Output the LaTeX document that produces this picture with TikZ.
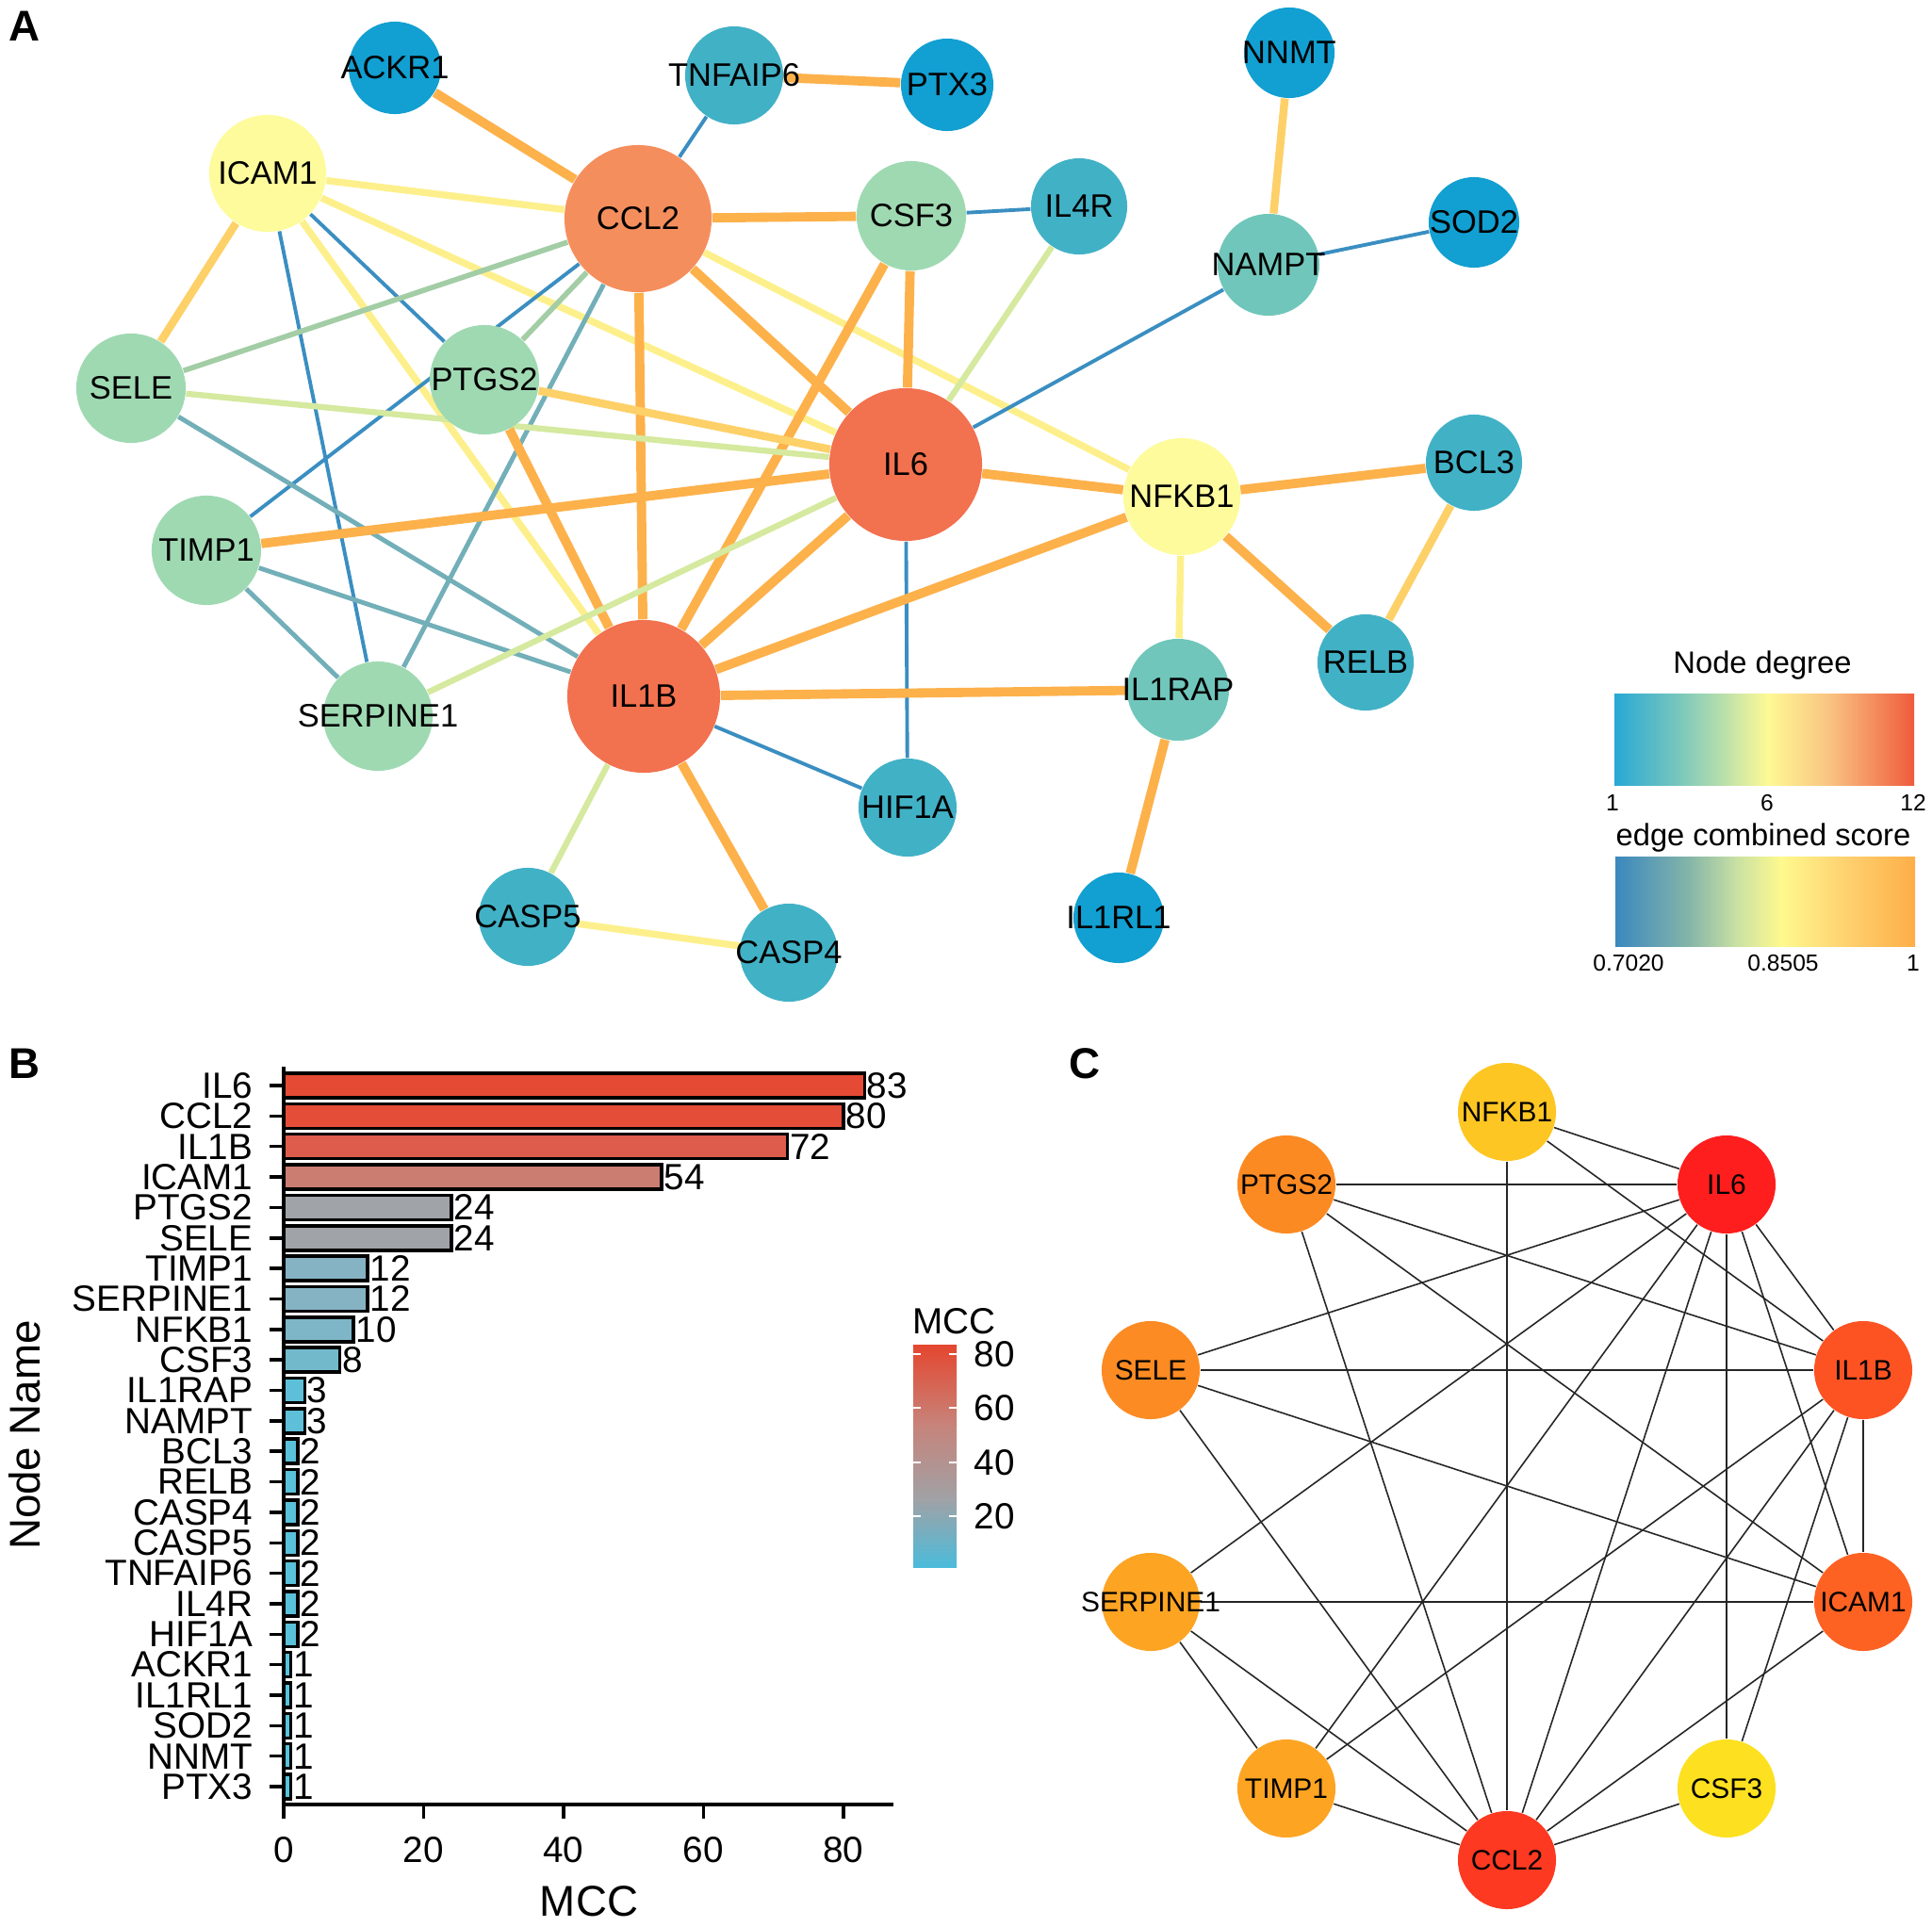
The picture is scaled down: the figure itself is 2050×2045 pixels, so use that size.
\documentclass[tikz,border=0pt]{standalone}
\usepackage{fontspec}
\setmainfont{Liberation Sans}
\usetikzlibrary{backgrounds}

% node colours, panel A (by degree)
\definecolor{dg1}{HTML}{129FD1}
\definecolor{dg2}{HTML}{41B1C6}
\definecolor{dg3}{HTML}{70C6BB}
\definecolor{dg4}{HTML}{9FD9B2}
\definecolor{dg6}{HTML}{FDFB9C}
\definecolor{dg11}{HTML}{F58E5D}
\definecolor{dg12}{HTML}{F2714F}
% edge colours, panel A
\definecolor{cOrng}{HTML}{FDB14B}
\definecolor{cLtor}{HTML}{FDD068}
\definecolor{cYell}{HTML}{FDF08C}
\definecolor{cLime}{HTML}{D5E99F}
\definecolor{cGreen}{HTML}{A3CDA5}
\definecolor{cTeal}{HTML}{72AFB8}
\definecolor{cBlue}{HTML}{3A8EC1}
% legend stops
\definecolor{nd0}{HTML}{28A8D4}
\definecolor{nd1}{HTML}{7CC8BC}
\definecolor{nd2}{HTML}{C2E3A8}
\definecolor{nd3}{HTML}{FEF995}
\definecolor{nd4}{HTML}{F9C281}
\definecolor{nd5}{HTML}{EF5B3C}
\definecolor{es0}{HTML}{3B88BF}
\definecolor{es1}{HTML}{86B6A8}
\definecolor{es2}{HTML}{C8E0A4}
\definecolor{es3}{HTML}{FEF98E}
\definecolor{es4}{HTML}{FED472}
\definecolor{es5}{HTML}{FEAE48}
% bar colours, panel B
\definecolor{b83}{HTML}{E44A34}
\definecolor{b80}{HTML}{E44D38}
\definecolor{b72}{HTML}{DD5C4B}
\definecolor{b54}{HTML}{CB7D72}
\definecolor{b24}{HTML}{A0A3A8}
\definecolor{b12}{HTML}{85B3C3}
\definecolor{b10}{HTML}{7EB6C7}
\definecolor{b8}{HTML}{73B9CC}
\definecolor{b3}{HTML}{5DC0D8}
\definecolor{b2}{HTML}{5AC1DA}
\definecolor{b1}{HTML}{57C3DC}
\definecolor{mccA}{HTML}{E4472F}
\definecolor{mccB}{HTML}{C7837A}
\definecolor{mccC}{HTML}{A0A2A6}
\definecolor{mccD}{HTML}{4BBBDA}
% node colours, panel C
\definecolor{cNF}{HTML}{FDC623}
\definecolor{cIL6}{HTML}{FE1E1E}
\definecolor{cPT}{HTML}{FB8A22}
\definecolor{cSE}{HTML}{FC8B23}
\definecolor{cSP}{HTML}{FDA423}
\definecolor{cCC}{HTML}{FD3921}
\definecolor{cCS}{HTML}{FDE020}
\definecolor{cIB}{HTML}{FD5323}
\definecolor{cIC}{HTML}{FD6223}

\tikzset{
  gene/.style={circle, inner sep=0pt, draw=none},
  albl/.style={inner sep=0pt, font=\fontsize{9.8}{10}\selectfont},
  clbl/.style={inner sep=0pt, font=\fontsize{8.5}{9}\selectfont},
  eorng/.style={draw=cOrng, line width=2.8pt},
  eltor/.style={draw=cLtor, line width=2.4pt},
  eyell/.style={draw=cYell, line width=2.1pt},
  elime/.style={draw=cLime, line width=1.8pt},
  egreen/.style={draw=cGreen, line width=1.6pt},
  eteal/.style={draw=cTeal, line width=1.4pt},
  eblue/.style={draw=cBlue, line width=1.1pt},
  cedge/.style={draw=black!85, line width=0.45pt},
  legtitle/.style={inner sep=0pt, font=\fontsize{9.3}{10}\selectfont},
  legtick/.style={inner sep=0pt, font=\fontsize{7}{8}\selectfont},
  blbl/.style={inner sep=0pt, font=\fontsize{11}{12}\selectfont},
  axtitle/.style={inner sep=0pt, font=\fontsize{13}{14}\selectfont},
  axisline/.style={line width=1pt},
  bar/.style={draw=black, line width=1pt},
  panel/.style={inner sep=0pt, font=\fontsize{13}{13}\selectfont\bfseries}
}

\begin{document}
\begin{tikzpicture}[x=0.01cm, y=-0.01cm]
\useasboundingbox (0,0) rectangle (2050,2045);

%% panel A
\node[panel] (pA) at (26,28) {A};
\foreach \nm/\x/\y/\r/\col in {
    ACKR1/419/72/49/dg1, TNFAIP6/779/80/52/dg2, PTX3/1005/90/49/dg1,
    ICAM1/284/184/62/dg6, CCL2/677/232/78/dg11, CSF3/967/229/58/dg4,
    IL4R/1145/219/51/dg2, NNMT/1368/56/48/dg1, NAMPT/1346/281/54/dg3,
    SOD2/1564/236/48/dg1, SELE/139/412/58/dg4, PTGS2/514/403/58/dg4,
    IL6/961/493/81/dg12, NFKB1/1254/527/62/dg6, BCL3/1564/491/51/dg2,
    TIMP1/219/584/58/dg4, RELB/1449/703/51/dg2, SERPINE1/401/760/58/dg4,
    IL1B/683/739/81/dg12, IL1RAP/1250/732/54/dg3, HIF1A/963/857/52/dg2,
    CASP5/560/973/52/dg2, CASP4/837/1011/52/dg2, IL1RL1/1187/974/48/dg1}
{
    \node[gene, fill=\col, minimum size=\r*0.02cm, label={[albl]center:\nm}] (a\nm) at (\x,\y) {};
}
\begin{scope}[on background layer]
\foreach \u/\v/\s in {
    ACKR1/CCL2/eorng, TNFAIP6/CCL2/eblue, TNFAIP6/PTX3/eorng,
    ICAM1/CCL2/eyell, ICAM1/IL6/eyell, ICAM1/SELE/eltor,
    ICAM1/SERPINE1/eblue, ICAM1/PTGS2/eblue, ICAM1/IL1B/eyell,
    CCL2/CSF3/eorng, CCL2/IL6/eorng, CCL2/IL1B/eorng,
    CCL2/SELE/egreen, CCL2/TIMP1/eblue, CCL2/PTGS2/egreen,
    CCL2/SERPINE1/eteal, CCL2/NFKB1/eyell, CSF3/IL4R/eblue,
    CSF3/IL6/eorng, CSF3/IL1B/eorng, IL4R/IL6/elime,
    SELE/IL6/elime, SELE/IL1B/eteal, PTGS2/IL6/eltor,
    PTGS2/IL1B/eorng, TIMP1/IL6/eorng, TIMP1/IL1B/eteal,
    TIMP1/SERPINE1/eteal, SERPINE1/IL6/elime, IL6/IL1B/eorng,
    IL6/HIF1A/eblue, IL6/NAMPT/eblue, IL6/NFKB1/eorng,
    IL1B/NFKB1/eorng, IL1B/IL1RAP/eorng, IL1B/HIF1A/eblue,
    IL1B/CASP5/elime, IL1B/CASP4/eorng, CASP5/CASP4/eyell,
    NNMT/NAMPT/eltor, NAMPT/SOD2/eblue, NFKB1/BCL3/eorng,
    NFKB1/RELB/eorng, NFKB1/IL1RAP/eyell, BCL3/RELB/eltor,
    IL1RAP/IL1RL1/eorng}
{
    \draw[\s] (a\u) -- (a\v);
}
\end{scope}

% legends
\node[legtitle] (ndTitle) at (1870,706) {Node degree};
\foreach \xa/\xb/\ca/\cb in {1713/1784/nd0/nd1, 1783/1835/nd1/nd2,
    1834/1876/nd2/nd3, 1875/1943/nd3/nd4, 1942/2031/nd4/nd5}
    \shade[left color=\ca, right color=\cb] (\xa,736) rectangle (\xb,833);
\node[legtick] (nd1) at (1711,852) {1};
\node[legtick] (nd6) at (1875,852) {6};
\node[legtick] (nd12) at (2030,852) {12};
\node[legtitle] (esTitle) at (1871,889) {edge combined score};
\foreach \xa/\xb/\ca/\cb in {1714/1794/es0/es1, 1793/1842/es1/es2,
    1841/1890/es2/es3, 1889/1954/es3/es4, 1953/2032/es4/es5}
    \shade[left color=\ca, right color=\cb] (\xa,909) rectangle (\xb,1004);
\node[legtick] (esLo) at (1728,1022) {0.7020};
\node[legtick] (esMid) at (1892,1022) {0.8505};
\node[legtick] (esHi) at (2030,1022) {1};

%% panel B
\node[panel] (pB) at (26,1129) {B};
\foreach \nm/\v [count=\i from 0] in {IL6/83, CCL2/80, IL1B/72, ICAM1/54,
    PTGS2/24, SELE/24, TIMP1/12, SERPINE1/12, NFKB1/10, CSF3/8, IL1RAP/3,
    NAMPT/3, BCL3/2, RELB/2, CASP4/2, CASP5/2, TNFAIP6/2, IL4R/2, HIF1A/2,
    ACKR1/1, IL1RL1/1, SOD2/1, NNMT/1, PTX3/1}
{
    \pgfmathsetmacro{\yy}{1152+32.35*\i}
    \pgfmathsetmacro{\xx}{301+7.425*\v}
    \draw[bar, fill=b\v] (301,\yy-13) rectangle (\xx,\yy+13);
    \draw[axisline] (286,\yy) -- (301,\yy);
    \node[blbl, anchor=east] (bn\nm) at (269,\yy) {\nm};
    \node[blbl, anchor=west] (bv\nm) at (\xx+2,\yy) {\v};
}
\draw[axisline] (301,1132) -- (301,1915) -- (948,1915);
\foreach \t in {0,20,...,80}
{
    \draw[axisline] (301+\t*7.425,1915) -- ++(0,15);
    \node[blbl] (xt\t) at (301+\t*7.425,1963) {\t};
}
\node[axtitle] (xname) at (625,2018) {MCC};
\node[axtitle, rotate=90] (yname) at (26,1523) {Node Name};

% MCC colour bar
\node[blbl, anchor=west] (mccTitle) at (968,1402) {MCC};
\shade[top color=mccA, bottom color=mccB] (969,1427) rectangle (1015,1512);
\shade[top color=mccB, bottom color=mccC] (969,1511) rectangle (1015,1592);
\shade[top color=mccC, bottom color=mccD] (969,1591) rectangle (1015,1663);
\foreach \t/\yy in {80/1437, 60/1494, 40/1552, 20/1609}
{
    \draw[white, line width=0.6pt] (969,\yy) -- (977,\yy) (1007,\yy) -- (1015,\yy);
    \node[blbl, anchor=west] (mcc\t) at (1033,\yy) {\t};
}

%% panel C
\node[panel] (pC) at (1151,1129) {C};
\foreach \nm/\x/\y/\col in {NFKB1/1599/1180/cNF, IL6/1832/1257/cIL6,
    PTGS2/1365/1257/cPT, IL1B/1977/1454/cIB, SELE/1221/1454/cSE,
    ICAM1/1977/1700/cIC, SERPINE1/1221/1700/cSP, TIMP1/1365/1898/cSP,
    CSF3/1832/1898/cCS, CCL2/1599/1974/cCC}
{
    \node[gene, fill=\col, minimum size=1.04cm, label={[clbl]center:\nm}] (c\nm) at (\x,\y) {};
}
\begin{scope}[on background layer]
\foreach \u/\v in {NFKB1/IL6, NFKB1/IL1B, NFKB1/CCL2, PTGS2/IL6, PTGS2/IL1B,
    PTGS2/ICAM1, PTGS2/CCL2, IL6/SELE, IL6/SERPINE1, IL6/TIMP1, IL6/CCL2,
    IL6/CSF3, IL6/ICAM1, IL6/IL1B, SELE/IL1B, SELE/ICAM1, SELE/CCL2,
    IL1B/ICAM1, IL1B/TIMP1, IL1B/CCL2, IL1B/CSF3, SERPINE1/ICAM1,
    SERPINE1/TIMP1, SERPINE1/CCL2, ICAM1/CCL2, TIMP1/CCL2, CSF3/CCL2}
{
    \draw[cedge] (c\u) -- (c\v);
}
\end{scope}

\end{tikzpicture}
\end{document}
